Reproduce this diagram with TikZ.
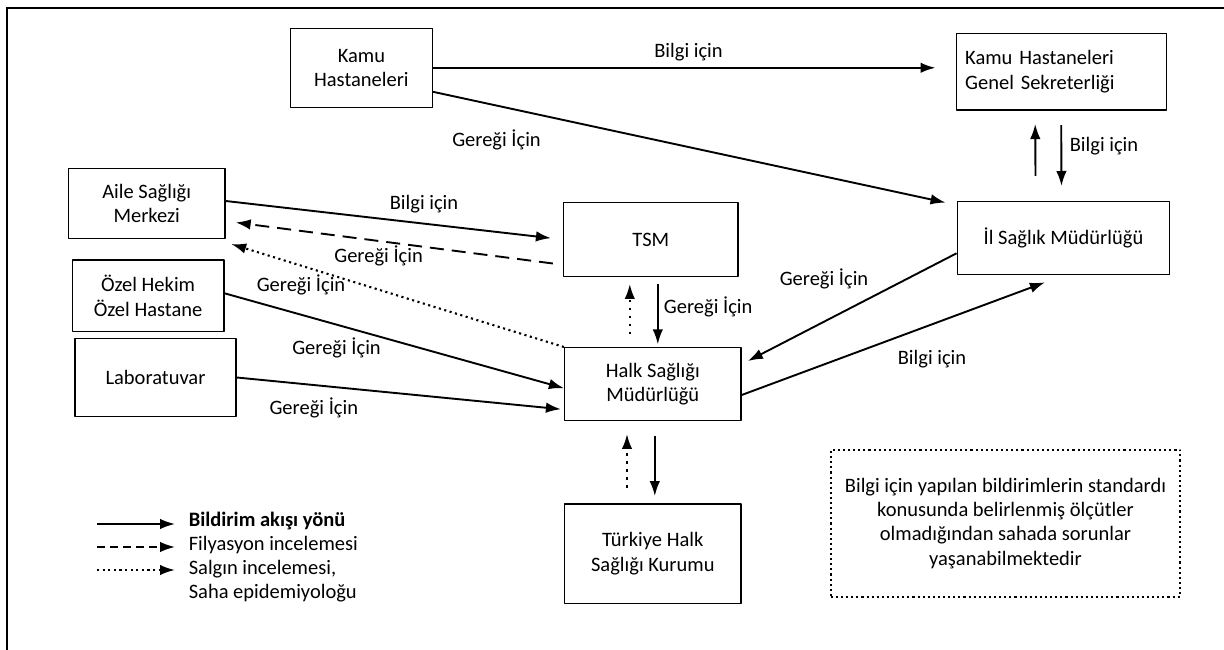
\documentclass[tikz,border=0pt]{standalone}
\usepackage{fontspec}
\setmainfont{Carlito}
\usetikzlibrary{arrows.meta}
\newcommand{\bildfont}{\fontsize{20.5bp}{24.3bp}\selectfont}

\begin{document}
\begin{tikzpicture}[>={Latex[length=15bp,width=10.5bp]},line join=bevel,
  box/.style={draw,line width=1.4bp,inner sep=0pt,align=center,font=\bildfont},
  lbl/.style={inner sep=0pt,font=\bildfont},
  flow/.style={->,line width=1.9bp},
  filyas/.style={flow,dash pattern=on 14bp off 8bp},
  salgin/.style={flow,line width=2.1bp,dash pattern=on 2.1bp off 3.5bp},
]
\useasboundingbox (0bp,0bp) rectangle (1224bp,650bp);
\draw [line width=2.2bp,line join=miter] (7.1bp,0bp) -- (7.1bp,641.7bp) -- (1224bp,641.7bp);

% Node: kh
\node [box,minimum width=141.6bp,minimum height=79bp] (kh) at (361.4bp,582.2bp) {Kamu\\Hastaneleri};
% Node: khgs
\node [box,align=left,text width=192bp,inner xsep=9bp,minimum height=76.7bp] (khgs) at (1061.2bp,578.3bp) {Kamu Hastaneleri\\Genel Sekreterliği};
% Node: asm
\node [box,minimum width=156.6bp,minimum height=70.4bp] (asm) at (146.7bp,446.5bp) {Aile Sağlığı\\Merkezi};
% Node: tsm
\node [box,minimum width=174.5bp,minimum height=74.4bp] (tsm) at (650.8bp,410.5bp) {TSM};
% Node: ism
\node [box,minimum width=212.5bp,minimum height=72.6bp] (ism) at (1063.5bp,412bp) {İl Sağlık Müdürlüğü};
% Node: ozel
\node [box,minimum width=151.4bp,minimum height=71.7bp] (ozel) at (148.1bp,354.2bp) {Özel Hekim\\Özel Hastane};
% Node: lab
\node [box,minimum width=161bp,minimum height=78.4bp] (lab) at (155.5bp,272.5bp) {Laboratuvar};
% Node: hsm
\node [box,minimum width=176.4bp,minimum height=73bp] (hsm) at (652.8bp,265.8bp) {Halk Sağlığı\\Müdürlüğü};
% Node: thsk
\node [box,minimum width=176.4bp,minimum height=99.3bp] (thsk) at (652.8bp,96.3bp) {Türkiye Halk\\Sağlığı Kurumu};
% Node: note
\node [box,dash pattern=on 2.1bp off 3bp,line width=2.1bp,minimum width=349.4bp,minimum height=146.7bp] (note) at (1005.5bp,126.7bp)
  {Bilgi için yapılan bildirimlerin standardı\\konusunda belirlenmiş ölçütler\\olmadığından sahada sorunlar\\yaşanabilmektedir};

% Edge: kh -> khgs
\draw [flow,shorten >=20bp] (kh.east) -- (kh.east -| khgs.west);
% Edge: kh -> ism
\draw [flow] ([yshift=-24bp]kh.east) -- ([xshift=-11bp,yshift=-1.6bp]ism.north west);
% Edge: ism -> khgs
\draw [flow] ([xshift=-28bp,yshift=25bp]ism.north) -- ([xshift=-26bp,yshift=-13.3bp]khgs.south);
% Edge: khgs -> ism
\draw [flow] ([yshift=-14.3bp]khgs.south) -- ([xshift=-2bp,yshift=15bp]ism.north);
% Edge: asm -> tsm
\draw [flow,shorten >=12bp] ([yshift=2.5bp]asm.east) -- (tsm.west);
% Edge: tsm -> asm
\draw [filyas] ([xshift=-10bp,yshift=-24bp]tsm.west) -- ([xshift=10bp,yshift=-19bp]asm.east);
% Edge: hsm -> asm
\draw [salgin] (hsm.north west) -- ([xshift=5.5bp,yshift=-4.6bp]asm.south east);
% Edge: ozel -> hsm
\draw [flow] ([yshift=2.5bp]ozel.east) -- ([yshift=-4bp]hsm.west);
% Edge: lab -> hsm
\draw [flow] (lab.east) -- ([xshift=-3bp,yshift=-25bp]hsm.west);
% Edge: hsm -> tsm
\draw [salgin,dash pattern=on 2.2bp off 5.8bp] ([xshift=-23bp,yshift=13bp]hsm.north) -- ([xshift=-21bp,yshift=-6.6bp]tsm.south);
% Edge: tsm -> hsm
\draw [flow] ([xshift=7bp,yshift=-6.6bp]tsm.south) -- ([xshift=5bp,yshift=2.7bp]hsm.north);
% Edge: thsk -> hsm
\draw [salgin,dash pattern=on 2.2bp off 5.8bp] ([xshift=-25.8bp,yshift=15.7bp]thsk.north) -- ([xshift=-25.8bp,yshift=-12.6bp]hsm.south);
% Edge: hsm -> thsk
\draw [flow] ([xshift=2bp,yshift=-14.3bp]hsm.south) -- ([xshift=2bp,yshift=7.3bp]thsk.north);
% Edge: ism -> hsm
\draw [flow] ([yshift=-15.3bp]ism.west) -- ([xshift=6.2bp,yshift=-14bp]hsm.north east);
% Edge: hsm -> ism
\draw [flow] ([yshift=-10.8bp]hsm.east) -- ([xshift=-18.6bp,yshift=-7.4bp]ism.south);

% Edge labels
\node [lbl,anchor=base] (l1) at (688.5bp,592.7bp) {Bilgi için};
\node [lbl,anchor=base] (l2) at (496.5bp,503.3bp) {Gereği İçin};
\node [lbl,anchor=base west] (l3) at (1069.6bp,498.3bp) {Bilgi için};
\node [lbl,anchor=base] (l4) at (424bp,440bp) {Bilgi için};
\node [lbl,anchor=base] (l5) at (378.6bp,387bp) {Gereği İçin};
\node [lbl,anchor=base] (l6) at (301bp,358.3bp) {Gereği İçin};
\node [lbl,anchor=base west] (l7) at (663.7bp,336.7bp) {Gereği İçin};
\node [lbl,anchor=base] (l8) at (824bp,364bp) {Gereği İçin};
\node [lbl,anchor=base] (l9) at (336.5bp,295bp) {Gereği İçin};
\node [lbl,anchor=base] (l10) at (932bp,285bp) {Bilgi için};
\node [lbl,anchor=base] (l11) at (313.8bp,235bp) {Gereği İçin};

% Legend
\coordinate (a1) at (97bp,126bp);
\coordinate (b1) at (175bp,126bp);
\coordinate (a2) at (97bp,103bp);
\coordinate (b2) at (175bp,103bp);
\coordinate (a3) at (97bp,80bp);
\coordinate (b3) at (175bp,80bp);
\draw [flow] (a1) -- (b1);
\draw [filyas,dash pattern=on 8bp off 5bp] (a2) -- (b2);
\draw [salgin] (a3) -- (b3);
\node [lbl,anchor=base west] (leg1) at (188.6bp,123.3bp) {\bfseries Bildirim akışı yönü};
\node [lbl,anchor=base west] (leg2) at (188.6bp,99.3bp) {Filyasyon incelemesi};
\node [lbl,anchor=base west] (leg3) at (188.6bp,75bp) {Salgın incelemesi,};
\node [lbl,anchor=base west] (leg4) at (188.6bp,51bp) {Saha epidemiyoloğu};
%
\end{tikzpicture}
\end{document}
